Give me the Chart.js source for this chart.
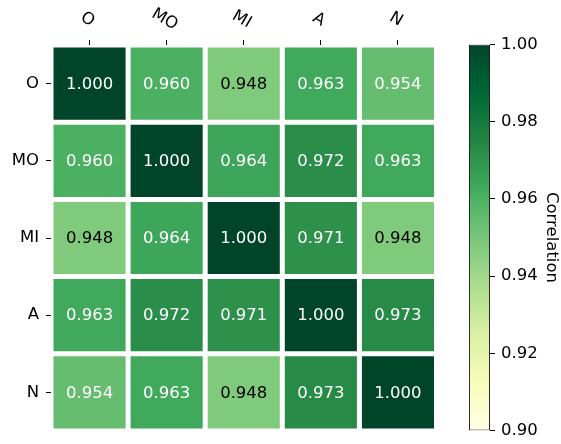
<!DOCTYPE html>
<html>
<head>
<meta charset="utf-8">
<script src="https://cdn.jsdelivr.net/npm/chart.js@4/dist/chart.umd.min.js"></script>
<style>
  html, body { margin: 0; padding: 0; background: #fff; }
  #wrap { position: relative; width: 561px; height: 444px; background: #fff; }
  #wrap canvas { position: absolute; left: 0; top: 0; }
</style>
</head>
<body>
<div id="wrap">
  <canvas id="heat" width="561" height="444"></canvas>
  <canvas id="cbar" width="561" height="444"></canvas>
</div>
<script>
// Variables compared in the correlation matrix
const categories = ['O', 'MO', 'MI', 'A', 'N'];

// Correlation values, one array per row
const rowO  = [1.000, 0.960, 0.948, 0.963, 0.954];
const rowMO = [0.960, 1.000, 0.964, 0.972, 0.963];
const rowMI = [0.948, 0.964, 1.000, 0.971, 0.948];
const rowA  = [0.963, 0.972, 0.971, 1.000, 0.973];
const rowN  = [0.954, 0.963, 0.948, 0.973, 1.000];
const rows = [rowO, rowMO, rowMI, rowA, rowN];

// Colour scale range and colour-bar ticks
const cbMin = 0.90;
const cbMax = 1.00;
const cbTicks = [0.90, 0.92, 0.94, 0.96, 0.98, 1.00];
const cbLabel = 'Correlation';

// YlGn colour map stops
const ylgn = ['#ffffe5', '#f7fcb9', '#d9f0a3', '#addd8e', '#78c679', '#41ab5d', '#238443', '#006837', '#004529'];

const FONT = { family: '"DejaVu Sans", sans-serif', size: 16.5 };

function hexToRgb(h) {
  return [parseInt(h.slice(1, 3), 16), parseInt(h.slice(3, 5), 16), parseInt(h.slice(5, 7), 16)];
}
function norm(v) {
  return Math.min(1, Math.max(0, (v - cbMin) / (cbMax - cbMin)));
}
function ylgnColor(v) {
  const t = norm(v) * (ylgn.length - 1);
  const i = Math.min(ylgn.length - 2, Math.floor(t));
  const f = t - i;
  const a = hexToRgb(ylgn[i]), b = hexToRgb(ylgn[i + 1]);
  const c = a.map((x, k) => Math.round(x + (b[k] - x) * f));
  return `rgb(${c[0]},${c[1]},${c[2]})`;
}

// Keep the vertical axes from reserving room for their end labels
function fixedVertical(width) {
  return function (s) {
    s.width = width;
    s.paddingTop = 0;
    s.paddingBottom = 0;
  };
}

// One stacked dataset per row; each cell spans one unit of the row axis
const datasets = rows.map((vals, r) => ({
  label: categories[r],
  data: vals.map(() => 1),
  values: vals,
  backgroundColor: vals.map(ylgnColor),
  borderColor: '#ffffff',
  borderWidth: 2.5,
  borderSkipped: false,
  inflateAmount: 0,
  barPercentage: 1,
  categoryPercentage: 1
}));

// Writes each cell's value in its centre
const cellText = {
  id: 'cellText',
  afterDatasetsDraw(chart) {
    const ctx = chart.ctx;
    ctx.save();
    ctx.font = `${FONT.size}px ${FONT.family}`;
    ctx.textAlign = 'center';
    ctx.textBaseline = 'middle';
    chart.data.datasets.forEach((ds, di) => {
      const meta = chart.getDatasetMeta(di);
      meta.data.forEach((bar, j) => {
        const v = ds.values[j];
        ctx.fillStyle = norm(v) < 0.5 ? '#000000' : '#ffffff';
        ctx.fillText(v.toFixed(3), bar.x, (bar.y + bar.base) / 2 + 1);
      });
    });
    ctx.restore();
  }
};

// Top column labels, turned clockwise
const topLabels = {
  id: 'topLabels',
  afterDraw(chart) {
    const xs = chart.scales.x;
    const ctx = chart.ctx;
    ctx.save();
    ctx.font = `${FONT.size}px ${FONT.family}`;
    ctx.fillStyle = '#000';
    ctx.textAlign = 'center';
    ctx.textBaseline = 'middle';
    categories.forEach((c, i) => {
      const x = xs.getPixelForValue(i);
      ctx.save();
      ctx.translate(x - 2, xs.bottom - 25.5);
      ctx.rotate(Math.PI / 6);
      ctx.fillText(c, 0, 0);
      ctx.restore();
    });
    ctx.restore();
  }
};

new Chart(document.getElementById('heat'), {
  type: 'bar',
  data: { labels: categories, datasets },
  options: {
    responsive: false,
    animation: false,
    layout: { autoPadding: false, padding: { left: 0, top: 0, right: 124.5, bottom: 13 } },
    plugins: { legend: { display: false }, tooltip: { enabled: false } },
    scales: {
      x: {
        type: 'category',
        position: 'top',
        stacked: true,
        border: { display: false },
        grid: { drawOnChartArea: false, drawTicks: true, tickLength: 5, tickWidth: 1, tickColor: '#000', offset: false },
        ticks: { color: 'rgba(0,0,0,0)', maxRotation: 0, minRotation: 0, autoSkip: false, font: FONT },
        afterFit(s) { s.height = 45; }
      },
      y: {
        type: 'linear',
        min: 0,
        max: categories.length,
        reverse: true,
        stacked: true,
        border: { display: false },
        grid: { drawOnChartArea: false, drawTicks: true, tickLength: 5, tickWidth: 1, tickColor: '#000' },
        afterBuildTicks(s) { s.ticks = categories.map((c, i) => ({ value: i + 0.5 })); },
        ticks: {
          color: '#000',
          font: FONT,
          padding: 7,
          autoSkip: false,
          callback: (v, i) => categories[i]
        },
        afterFit: fixedVertical(51)
      }
    }
  },
  plugins: [cellText, topLabels]
});

// Colour bar: one floating bar spanning the colour range, filled with the map
function barGradient(c) {
  const chart = c.chart;
  const ys = chart.scales.y;
  if (!chart.chartArea || !ys) return ylgn[4];
  const g = chart.ctx.createLinearGradient(0, ys.getPixelForValue(cbMin), 0, ys.getPixelForValue(cbMax));
  ylgn.forEach((col, k) => g.addColorStop(k / (ylgn.length - 1), col));
  return g;
}

new Chart(document.getElementById('cbar'), {
  type: 'bar',
  data: {
    labels: [cbLabel],
    datasets: [{
      data: [[cbMin, cbMax]],
      backgroundColor: barGradient,
      borderColor: '#000',
      borderWidth: 0.9,
      borderSkipped: false,
      inflateAmount: 0,
      barPercentage: 1,
      categoryPercentage: 1
    }]
  },
  options: {
    responsive: false,
    animation: false,
    layout: { autoPadding: false, padding: { left: 469, top: 44.5, right: 0, bottom: 13.5 } },
    plugins: { legend: { display: false }, tooltip: { enabled: false } },
    scales: {
      x: { display: false },
      y: {
        position: 'right',
        min: cbMin,
        max: cbMax,
        border: { display: false },
        grid: { drawOnChartArea: false, drawTicks: true, tickLength: 5, tickWidth: 1, tickColor: '#000' },
        afterBuildTicks(s) { s.ticks = cbTicks.map(v => ({ value: v })); },
        ticks: { color: '#000', font: FONT, padding: 6, callback: v => v.toFixed(2) },
        title: { display: true, text: cbLabel, color: '#000', font: FONT, padding: { top: 0, bottom: 0 } },
        afterFit: fixedVertical(71)
      }
    }
  }
});
</script>
</body>
</html>
